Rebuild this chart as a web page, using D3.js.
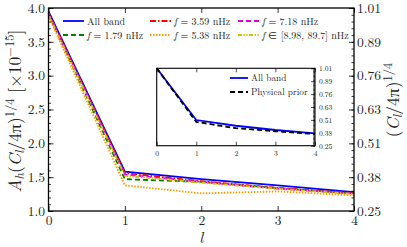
<!DOCTYPE html>
<html><head><meta charset="utf-8">
<script src="https://cdn.jsdelivr.net/npm/d3@7"></script>
<style>body{margin:0;background:#fff}svg{display:block}</style>
</head><body><svg id="c" width="407" height="247"></svg>
<script>
const ells = [0, 1, 2, 3, 4];
const allBand = [3.95, 1.58, 1.47, 1.38, 1.28];
const f179 = [3.91, 1.47, 1.43, 1.34, 1.26];
const f359 = [3.93, 1.56, 1.44, 1.34, 1.26];
const f538 = [3.88, 1.38, 1.26, 1.29, 1.23];
const f718 = [3.92, 1.54, 1.43, 1.33, 1.26];
const fBand = [3.90, 1.52, 1.42, 1.33, 1.25];
const leftTicks = [1.0, 1.5, 2.0, 2.5, 3.0, 3.5, 4.0];
const rightTickLabels = ["0.25", "0.38", "0.51", "0.63", "0.76", "0.89", "1.01"];
const insetAll = [1.01, 0.502, 0.446, 0.404, 0.372];
const insetPrior = [1.01, 0.484, 0.422, 0.392, 0.364];
const insetTickVals = [0.25, 0.3767, 0.5033, 0.63, 0.7567, 0.8833, 1.01];

const FONT = '"Latin Modern Roman", "Liberation Serif", serif';
const series = [
  {name: "All band", vals: allBand, color: "#0000ff", dash: null},
  {name: "f179", vals: f179, color: "#008000", dash: "5,3"},
  {name: "f359", vals: f359, color: "#ff0000", dash: "6,2,1.5,2"},
  {name: "f538", vals: f538, color: "#ff9900", dash: "1.5,1.5"},
  {name: "f718", vals: f718, color: "#dd00dd", dash: "5,3"},
  {name: "fband", vals: fBand, color: "#c8c800", dash: "4,1.5,1.3,1.5,1.3,1.5"}
];

const svg = d3.select("#c");
const L = 48.5, R = 354, T = 8, B = 211;
const x = d3.scaleLinear().domain([0, 4]).range([L, R]);
const y = d3.scaleLinear().domain([1, 4]).range([B, T]);

const line = d3.line().x((d, i) => x(ells[i])).y(d => y(d));
series.forEach(s => {
  svg.append("path").attr("d", line(s.vals)).attr("fill", "none")
    .attr("stroke", s.color).attr("stroke-width", 1.8)
    .attr("stroke-dasharray", s.dash);
});

const minor = d3.range(1.0, 4.0001, 0.1);
const main = svg.append("g").attr("class", "mainax");
main.append("g").attr("transform", `translate(${L},0)`)
  .call(d3.axisLeft(y).tickValues(leftTicks).tickFormat(d3.format(".1f")).tickSize(-5).tickPadding(3.5));
main.append("g").attr("transform", `translate(${L},0)`)
  .call(d3.axisLeft(y).tickValues(minor).tickFormat("").tickSize(-2.5));
main.append("g").attr("transform", `translate(${R},0)`)
  .call(d3.axisRight(y).tickValues(minor).tickFormat("").tickSize(-2.5));
main.append("g").attr("transform", `translate(${R},0)`)
  .call(d3.axisRight(y).tickValues(leftTicks).tickFormat((d, i) => rightTickLabels[i]).tickSize(-5).tickPadding(3));
main.append("g").attr("transform", `translate(0,${B})`)
  .call(d3.axisBottom(x).tickValues(ells).tickFormat(d3.format("d")).tickSize(-5).tickPadding(4));
main.append("g").attr("transform", `translate(0,${T})`)
  .call(d3.axisTop(x).tickValues(ells).tickFormat("").tickSize(-5));
main.selectAll(".domain").remove();
main.selectAll(".tick text").attr("font-size", 13.5).attr("fill", "#222");
main.selectAll(".tick line").attr("stroke", "#000").attr("stroke-width", 0.8);
svg.append("rect").attr("x", L).attr("y", T).attr("width", R - L).attr("height", B - T)
  .attr("fill", "none").attr("stroke", "#000").attr("stroke-width", 1.3);

// legend
const leg = [
  {s: 0, col: 0, row: 0, label: [["All band", 0]]},
  {s: 1, col: 0, row: 1, label: [["f", 1], [" = 1.79 nHz", 0]]},
  {s: 2, col: 1, row: 0, label: [["f", 1], [" = 3.59 nHz", 0]]},
  {s: 3, col: 1, row: 1, label: [["f", 1], [" = 5.38 nHz", 0]]},
  {s: 4, col: 2, row: 0, label: [["f", 1], [" = 7.18 nHz", 0]]},
  {s: 5, col: 2, row: 1, label: [["f", 1], [" ∈ [8.98, 89.7] nHz", 0]]}
];
const colX = [63, 150, 238], rowY = [21, 35];
leg.forEach(e => {
  const s = series[e.s];
  const x0 = colX[e.col], yy = rowY[e.row];
  svg.append("line").attr("x1", x0).attr("x2", x0 + 21).attr("y1", yy).attr("y2", yy)
    .attr("stroke", s.color).attr("stroke-width", 1.8).attr("stroke-dasharray", s.dash);
  const t = svg.append("text").attr("x", x0 + 24).attr("y", yy + 3.5).attr("font-size", 10).attr("fill", "#222");
  e.label.forEach(([txt, it]) => t.append("tspan").text(txt).attr("font-style", it ? "italic" : null));
});

// axis labels
const yl = svg.append("text").attr("transform", "translate(21,111) rotate(-90)")
  .attr("text-anchor", "middle").attr("font-size", 17.5).attr("fill", "#222");
yl.append("tspan").text("A").attr("font-style", "italic");
yl.append("tspan").text("h").attr("font-style", "italic").attr("font-size", 12.5).attr("dy", 3);
yl.append("tspan").text("(").attr("dy", -3);
yl.append("tspan").text("C").attr("font-style", "italic");
yl.append("tspan").text("l").attr("font-style", "italic").attr("font-size", 12.5).attr("dy", 3);
yl.append("tspan").text("/4π)").attr("dy", -3);
yl.append("tspan").text("1/4").attr("font-size", 12.5).attr("dy", -7);
yl.append("tspan").text(" [×10").attr("dy", 7);
yl.append("tspan").text("−15").attr("font-size", 12.5).attr("dy", -7);
yl.append("tspan").text("]").attr("dy", 7);

const yr = svg.append("text").attr("transform", "translate(399,100) rotate(-90)")
  .attr("text-anchor", "middle").attr("font-size", 17.5).attr("fill", "#222");
yr.append("tspan").text("(");
yr.append("tspan").text("C").attr("font-style", "italic");
yr.append("tspan").text("l").attr("font-style", "italic").attr("font-size", 12.5).attr("dy", 3);
yr.append("tspan").text("/4π)").attr("dy", -3);
yr.append("tspan").text("1/4").attr("font-size", 12.5).attr("dy", -7);

svg.append("text").attr("x", x(2)).attr("y", 242.5).attr("text-anchor", "middle")
  .attr("font-size", 16).attr("font-style", "italic").attr("fill", "#222").text("l");

// inset
const iL = 156.7, iR = 315, iT = 68.3, iB = 145.7;
const xi = d3.scaleLinear().domain([0, 4]).range([iL, iR]);
const yi = d3.scaleLinear().domain([0.25, 1.01]).range([iB, iT]);
const ins = svg.append("g");
ins.append("rect").attr("x", iL).attr("y", iT).attr("width", iR - iL).attr("height", iB - iT).attr("fill", "#fff");
const lineI = d3.line().x((d, i) => xi(ells[i])).y(d => yi(d));
ins.append("path").attr("d", lineI(insetAll)).attr("fill", "none").attr("stroke", "#0000ff").attr("stroke-width", 1.8);
ins.append("path").attr("d", lineI(insetPrior)).attr("fill", "none").attr("stroke", "#000").attr("stroke-width", 1.8).attr("stroke-dasharray", "5,3");
const minorI = d3.range(0, 61).map(i => 0.25 + i * 0.76 / 60);
ins.append("g").attr("transform", `translate(${iR},0)`)
  .call(d3.axisRight(yi).tickValues(minorI).tickFormat("").tickSize(-2));
ins.append("g").attr("transform", `translate(${iR},0)`)
  .call(d3.axisRight(yi).tickValues(insetTickVals).tickFormat((d, i) => rightTickLabels[i]).tickSize(-4).tickPadding(4));
ins.append("g").attr("transform", `translate(0,${iB})`)
  .call(d3.axisBottom(xi).tickValues(ells).tickFormat(d3.format("d")).tickSize(-4).tickPadding(5));
ins.append("g").attr("transform", `translate(0,${iT})`)
  .call(d3.axisTop(xi).tickValues(ells).tickFormat("").tickSize(-4));
ins.selectAll(".domain").remove();
ins.selectAll(".tick text").attr("font-size", 7.5).attr("fill", "#222");
ins.selectAll(".tick line").attr("stroke", "#000").attr("stroke-width", 0.7);
ins.append("rect").attr("x", iL).attr("y", iT).attr("width", iR - iL).attr("height", iB - iT)
  .attr("fill", "none").attr("stroke", "#000").attr("stroke-width", 1.1);
const ileg = [["All band", "#0000ff", null, 78], ["Physical prior", "#000", "5,3", 92]];
ileg.forEach(([lab, c, d, yy]) => {
  ins.append("line").attr("x1", 230).attr("x2", 248).attr("y1", yy).attr("y2", yy)
    .attr("stroke", c).attr("stroke-width", 1.8).attr("stroke-dasharray", d);
  ins.append("text").attr("x", 251).attr("y", yy + 3).attr("font-size", 9.3).attr("fill", "#222").text(lab);
});

svg.selectAll("text").style("font-family", FONT);
</script></body></html>
